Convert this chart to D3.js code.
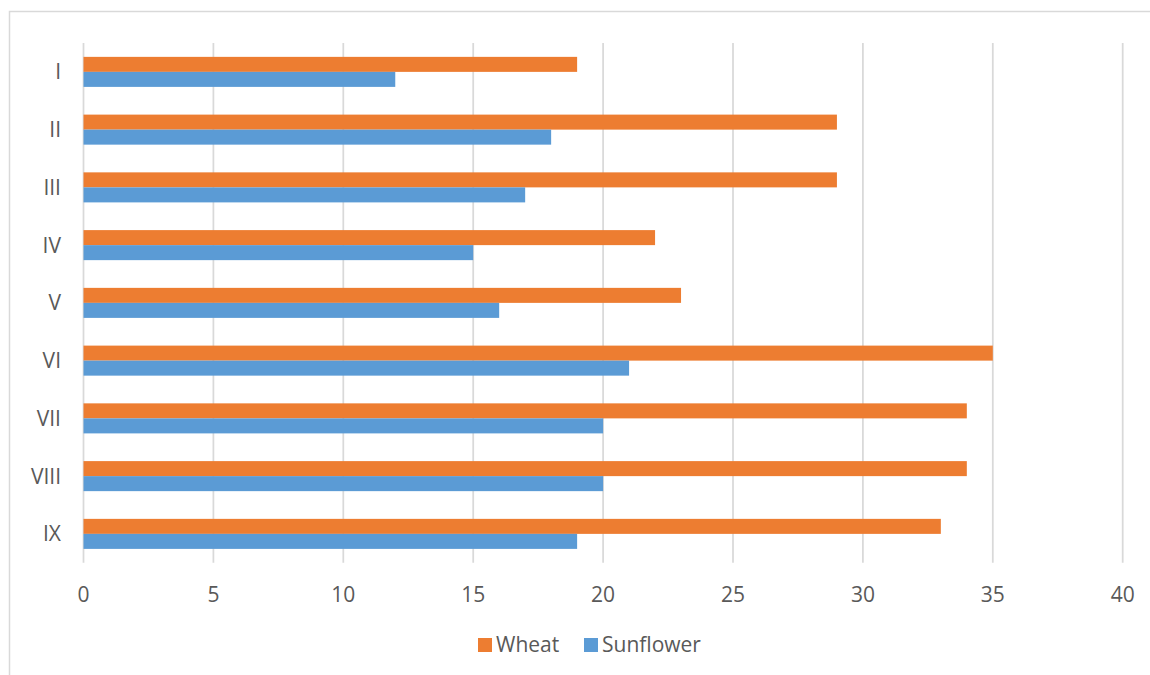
<!DOCTYPE html>
<html><head><meta charset="utf-8">
<script src="https://cdn.jsdelivr.net/npm/d3@7"></script>
<style>body{margin:0;background:#fff}svg{display:block}text{font-family:"Open Sans",sans-serif;fill:#595959}</style>
</head><body><svg id="c" width="1150" height="675"></svg>
<script>
const categories = ["I","II","III","IV","V","VI","VII","VIII","IX"];
const wheat = [19,29,29,22,23,35,34,34,33];
const sunflower = [12,18,17,15,16,21,20,20,19];
const xTicks = [0,5,10,15,20,25,30,35,40];
const seriesNames = ["Wheat","Sunflower"];
const colors = ["#ED7D31","#5B9BD5"];

const svg = d3.select("#c");
svg.append("rect").attr("x",9.5).attr("y",11.5).attr("width",1160).attr("height",700)
  .attr("fill","#fff").attr("stroke","#d9d9d9").attr("stroke-width",1.5);

const x = d3.scaleLinear().domain([0,40]).range([83.5,1122.7]);
const y = d3.scaleBand().domain(categories).range([43,562.75]).paddingInner(0.48).paddingOuter(0.24);

const g = svg.append("g");
g.selectAll("line.grid").data(xTicks).join("line").attr("class","grid")
  .attr("x1",d=>x(d)).attr("x2",d=>x(d)).attr("y1",43).attr("y2",562.75)
  .attr("stroke","#d9d9d9").attr("stroke-width",1.75);

const sub = d3.scaleBand().domain(seriesNames).range([0,y.bandwidth()]);
const data = [wheat, sunflower];
data.forEach((vals,si)=>{
  g.selectAll("rect.s"+si).data(vals).join("rect").attr("class","s"+si)
    .attr("x",x(0)).attr("y",(d,i)=>y(categories[i])+sub(seriesNames[si]))
    .attr("width",d=>x(d)-x(0)).attr("height",sub.bandwidth())
    .attr("fill",colors[si]);
});

g.selectAll("text.xt").data(xTicks).join("text").attr("class","xt")
  .attr("x",d=>x(d)).attr("y",602).attr("text-anchor","middle")
  .attr("font-size",21).text(d=>d);

g.selectAll("text.yt").data(categories).join("text").attr("class","yt")
  .attr("x",61).attr("y",d=>y(d)+y.bandwidth()/2+7.5).attr("text-anchor","end")
  .attr("font-size",21).text(d=>d);

const legX = [478,584];
seriesNames.forEach((n,i)=>{
  svg.append("rect").attr("x",legX[i]).attr("y",638).attr("width",14).attr("height",14).attr("fill",colors[i]);
  svg.append("text").attr("x",legX[i]+18).attr("y",651.5).attr("font-size",21).text(n);
});
</script></body></html>
